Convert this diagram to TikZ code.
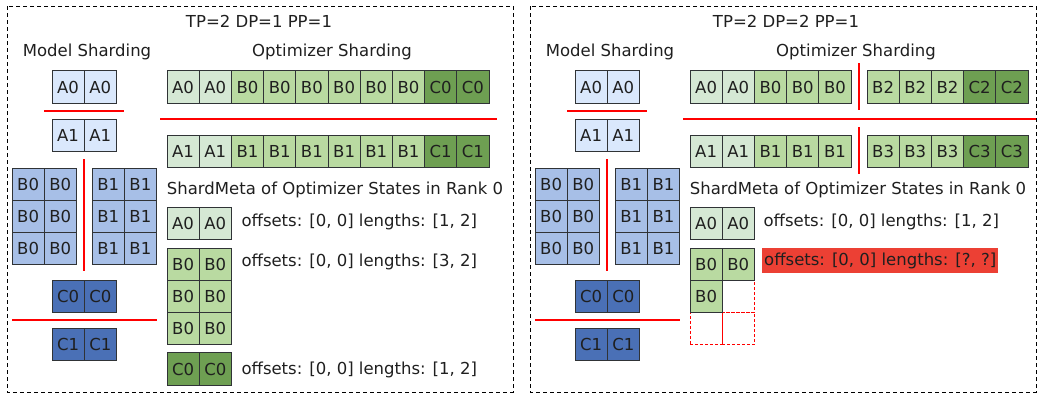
\documentclass[tikz,border=0pt]{standalone}
\usepackage{fontspec}
\setmainfont{DejaVu Sans}
\definecolor{ablue}{HTML}{DAE8FC}
\definecolor{bblue}{HTML}{A7BFE7}
\definecolor{cblue}{HTML}{4A70B6}
\definecolor{agreen}{HTML}{D5E8D4}
\definecolor{bgreen}{HTML}{B9DAA1}
\definecolor{cgreen}{HTML}{6E9F52}
\definecolor{cellline}{HTML}{303336}
\definecolor{warnred}{HTML}{EC4034}
\begin{document}
\begin{tikzpicture}
  [x=1pt,y=-1pt,every node/.style={font=\fontsize{16.5}{19}\selectfont,text=black!88},
   cell/.style={draw=cellline,line width=1pt,minimum width=32.2pt,minimum height=32.2pt,inner sep=0pt,outer sep=0pt},
   hole/.style={draw=red,dashed,dash pattern=on 3pt off 2pt,line width=0.8pt,minimum width=32.2pt,minimum height=32.2pt,inner sep=0pt},
   cut/.style={red,line width=1.6pt},
   frame/.style={line width=1pt,dash pattern=on 4pt off 3pt}]
\useasboundingbox (0,0) rectangle (1040,394);
\draw[frame] (7,6) rectangle (513,392);
\draw[frame] (530,6) rectangle (1036,392);
\node (tl) at (259,21) {TP=2 DP=1 PP=1};
\node (tr) at (786,21) {TP=2 DP=2 PP=1};

\foreach \p/\s in {l/0,r/523}{
 \begin{scope}[xshift=\s pt]
  \node (ms\p) at (87,52) {Model Sharding};
  \foreach \c/\x in {1/68.1,2/100.3}{
    \node (ms\p-a0\c)[cell,fill=ablue] at (\x,87) {A0};
    \node (ms\p-a1\c)[cell,fill=ablue] at (\x,135.1) {A1};
    \node (ms\p-c0\c)[cell,fill=cblue] at (\x,296.1) {C0};
    \node (ms\p-c1\c)[cell,fill=cblue] at (\x,344.5) {C1};
  }
  \foreach \r/\y in {1/184.1,2/216.3,3/248.5}{
    \node (ms\p-b0\r1)[cell,fill=bblue] at (28.1,\y) {B0};
    \node (ms\p-b0\r2)[cell,fill=bblue] at (60.3,\y) {B0};
    \node (ms\p-b1\r1)[cell,fill=bblue] at (108.2,\y) {B1};
    \node (ms\p-b1\r2)[cell,fill=bblue] at (140.4,\y) {B1};
  }
  \draw[cut] (44,111) -- (124,111);
  \draw[cut] (84,159) -- (84,271);
  \draw[cut] (12,320) -- (157,320);
 \end{scope}
}

\node (osl) at (332,52) {Optimizer Sharding};
\foreach \t/\f [count=\i] in {A0/agreen,A0/agreen,B0/bgreen,B0/bgreen,B0/bgreen,B0/bgreen,B0/bgreen,B0/bgreen,C0/cgreen,C0/cgreen}
  \node (ol1-\i)[cell,fill=\f] at ({150.9+32.2*\i},87) {\t};
\foreach \t/\f [count=\i] in {A1/agreen,A1/agreen,B1/bgreen,B1/bgreen,B1/bgreen,B1/bgreen,B1/bgreen,B1/bgreen,C1/cgreen,C1/cgreen}
  \node (ol2-\i)[cell,fill=\f] at ({150.9+32.2*\i},151.5) {\t};
\draw[cut] (160,119) -- (497,119);
\node (sml) at (335,190) {ShardMeta of Optimizer States in Rank 0};
\foreach \c/\x in {1/183.1,2/215.3}{
  \node (mla\c)[cell,fill=agreen] at (\x,223.5) {A0};
  \foreach \r/\y in {1/264.1,2/296.3,3/328.5}
    \node (mlb\r\c)[cell,fill=bgreen] at (\x,\y) {B0};
  \node (mlc\c)[cell,fill=cgreen] at (\x,369) {C0};
}
\node (tla)[anchor=west] at (238,222) {offsets: [0, 0] lengths: [1, 2]};
\node (tlb)[anchor=west] at (238,262) {offsets: [0, 0] lengths: [3, 2]};
\node (tlc)[anchor=west] at (238,370) {offsets: [0, 0] lengths: [1, 2]};

\node (osr) at (856,52) {Optimizer Sharding};
\foreach \t/\u/\f/\g [count=\i] in {A0/B2/agreen/bgreen,A0/B2/agreen/bgreen,B0/B2/bgreen/bgreen,B0/C2/bgreen/cgreen,B0/C2/bgreen/cgreen}{
  \node (or1-\i)[cell,fill=\f] at ({673.9+32.2*\i},87) {\t};
  \node (or1-\i b)[cell,fill=\g] at ({850.9+32.2*\i},87) {\u};
}
\foreach \t/\u/\f/\g [count=\i] in {A1/B3/agreen/bgreen,A1/B3/agreen/bgreen,B1/B3/bgreen/bgreen,B1/C3/bgreen/cgreen,B1/C3/bgreen/cgreen}{
  \node (or2-\i)[cell,fill=\f] at ({673.9+32.2*\i},151.5) {\t};
  \node (or2-\i b)[cell,fill=\g] at ({850.9+32.2*\i},151.5) {\u};
}
\draw[cut] (683,119) -- (1036,119);
\draw[cut] (859,63) -- (859,110);
\draw[cut] (859,127) -- (859,174);
\node (smr) at (858,190) {ShardMeta of Optimizer States in Rank 0};
\node (h1)[hole] at (738.3,296.3) {};
\node (h2)[hole] at (706.1,328.5) {};
\node (h3)[hole] at (738.3,328.5) {};
\node (mra1)[cell,fill=agreen] at (706.1,223.5) {A0};
\node (mra2)[cell,fill=agreen] at (738.3,223.5) {A0};
\node (mrb1)[cell,fill=bgreen] at (706.1,264.1) {B0};
\node (mrb2)[cell,fill=bgreen] at (738.3,264.1) {B0};
\node (mrb3)[cell,fill=bgreen] at (706.1,296.3) {B0};
\node (tra)[anchor=west] at (760,222) {offsets: [0, 0] lengths: [1, 2]};
\node (trb)[anchor=west,fill=warnred,inner xsep=2pt,minimum height=25pt] at (762,260.5) {offsets: [0, 0] lengths: [?, ?]};
\end{tikzpicture}
\end{document}
